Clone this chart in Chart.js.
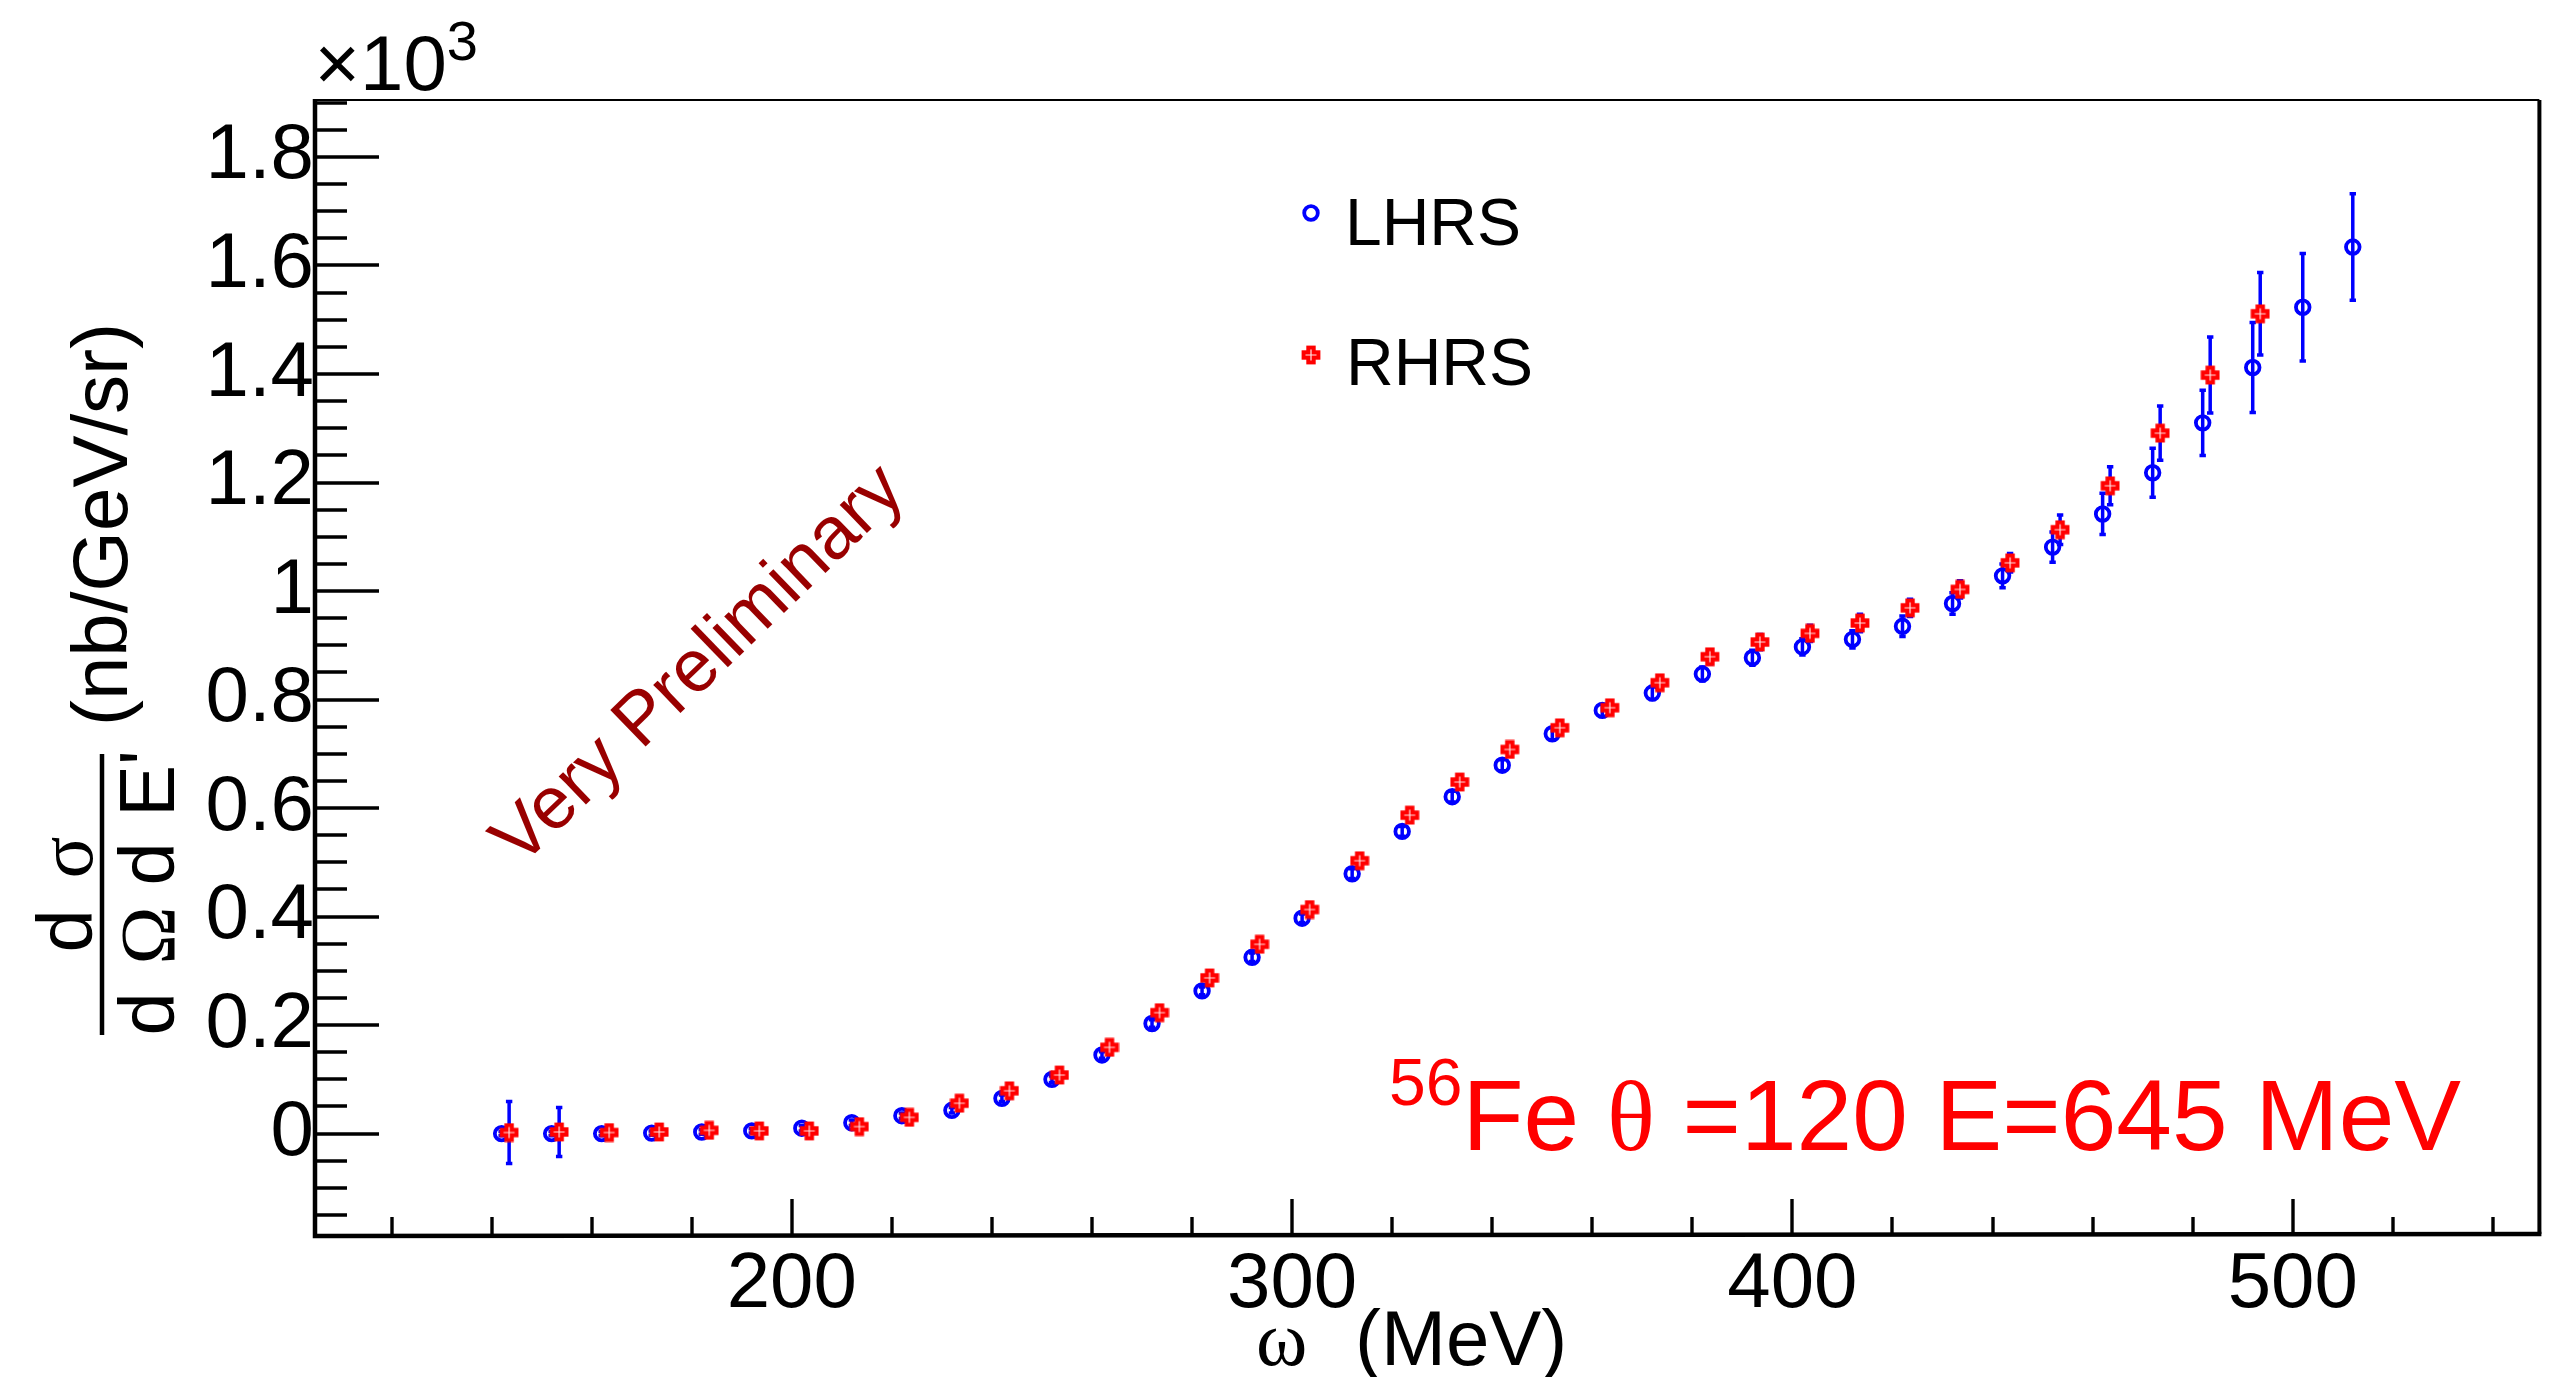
<!DOCTYPE html>
<html>
<head>
<meta charset="utf-8">
<script src="https://cdn.jsdelivr.net/npm/chart.js@4.4.0/dist/chart.umd.min.js"></script>
<style>
html,body{margin:0;padding:0;background:#fff;overflow:hidden}
canvas{display:block}
</style>
</head>
<body>
<canvas id="c" width="2550" height="1377"></canvas>
<script>
// ---------- data (cross section in units of 10^3 nb/GeV/sr) ----------
const lhrsOmega = [142,152,162,172,182,192,202,212,222,232,242,252,262,272,282,292,302,312,322,332,342,352,362,372,382,392,402,412,422,432,442,452,462,472,482,492,502,512];
const lhrsXsec  = [0.000,0.000,0.000,0.001,0.003,0.005,0.010,0.020,0.033,0.043,0.065,0.100,0.145,0.203,0.263,0.325,0.397,0.479,0.557,0.621,0.679,0.737,0.780,0.812,0.847,0.877,0.897,0.911,0.935,0.977,1.028,1.081,1.142,1.218,1.310,1.412,1.523,1.634];
const lhrsErr   = [0.004,0.004,0.004,0.004,0.004,0.004,0.005,0.005,0.005,0.005,0.006,0.006,0.006,0.007,0.007,0.008,0.008,0.009,0.009,0.010,0.010,0.011,0.011,0.012,0.013,0.014,0.015,0.016,0.019,0.020,0.022,0.028,0.038,0.045,0.060,0.083,0.099,0.098];

const rhrsOmega = [143.5,153.5,163.5,173.5,183.5,193.5,203.5,213.5,223.5,233.5,243.5,253.5,263.5,273.5,283.5,293.5,303.5,313.5,323.5,333.5,343.5,353.5,363.5,373.5,383.5,393.5,403.5,413.5,423.5,433.5,443.5,453.5,463.5,473.5,483.5,493.5];
const rhrsXsec  = [0.002,0.003,0.002,0.003,0.006,0.005,0.005,0.013,0.030,0.056,0.079,0.108,0.159,0.223,0.287,0.349,0.413,0.503,0.587,0.648,0.708,0.748,0.785,0.831,0.879,0.906,0.922,0.941,0.969,1.003,1.052,1.113,1.194,1.291,1.398,1.511];
const rhrsErr   = [0.057,0.045,0.006,0.005,0.005,0.005,0.005,0.005,0.005,0.006,0.006,0.006,0.007,0.007,0.008,0.008,0.009,0.009,0.010,0.010,0.011,0.011,0.012,0.012,0.013,0.014,0.015,0.016,0.016,0.016,0.017,0.027,0.035,0.050,0.070,0.076];

const xTickValues = [200,300,400,500];
const yTickValues = [0,0.2,0.4,0.6,0.8,1.0,1.2,1.4,1.6,1.8];
const xRange = [104.7, 549.3];
const yRange = [-0.185, 1.905];
const seriesNames = ['LHRS','RHRS'];

// ---------- styling ----------
const SANS = 'Liberation Sans';
const SERIF = 'Liberation Serif';
const BLUE = '#0000ff';
const RED = '#ff0000';

function makeCross(){
  const s = 20, c = document.createElement('canvas');
  c.width = s; c.height = s;
  const g = c.getContext('2d');
  const m = s/2, a = 4.7, L = 9.4;
  g.fillStyle = RED;
  g.fillRect(m-a, m-L, 2*a, 2*L);
  g.fillRect(m-L, m-a, 2*L, 2*a);
  g.strokeStyle = 'rgba(255,255,255,0.9)';
  g.lineWidth = 1.2;
  g.beginPath();
  g.moveTo(m-5.5, m); g.lineTo(m+5.5, m);
  g.moveTo(m, m-5.5); g.lineTo(m, m+5.5);
  g.stroke();
  return c;
}
const crossImg = makeCross();

const errSets = [
  {x: lhrsOmega, y: lhrsXsec, e: lhrsErr},
  {x: rhrsOmega, y: rhrsXsec, e: rhrsErr}
];

const rootPlugin = {
  id: 'rootDecor',
  beforeDraw(chart){
    const ctx = chart.ctx;
    ctx.save(); ctx.fillStyle = '#fff'; ctx.fillRect(0,0,chart.width,chart.height); ctx.restore();
  },
  beforeDatasetDraw(chart, args){
    const set = errSets[args.index];
    if (!set) return;
    const {ctx, scales:{x, y}} = chart;
    ctx.save();
    ctx.strokeStyle = BLUE;
    ctx.lineWidth = 3.5;
    ctx.lineCap = 'butt';
    set.x.forEach((xv, i) => {
      const px = x.getPixelForValue(xv);
      const y1 = y.getPixelForValue(set.y[i] + set.e[i]);
      const y2 = y.getPixelForValue(set.y[i] - set.e[i]);
      ctx.beginPath();
      ctx.moveTo(px, y1); ctx.lineTo(px, y2);
      ctx.moveTo(px-3.2, y1); ctx.lineTo(px+3.2, y1);
      ctx.moveTo(px-3.2, y2); ctx.lineTo(px+3.2, y2);
      ctx.stroke();
    });
    ctx.restore();
  },
  afterDraw(chart){
    const {ctx, chartArea:ca, scales:{x, y}} = chart;
    ctx.save();
    ctx.strokeStyle = '#000';
    // ticks
    ctx.lineWidth = 3.4;
    ctx.beginPath();
    for (let v = -0.15; v <= yRange[1] + 1e-9; v += 0.05) {
      const py = Math.round(y.getPixelForValue(v));
      const major = Math.abs(v/0.2 - Math.round(v/0.2)) < 1e-6;
      ctx.moveTo(ca.left, py); ctx.lineTo(ca.left + (major ? 64 : 32), py);
    }
    for (let v = 120; v <= xRange[1]; v += 20) {
      const px = Math.round(x.getPixelForValue(v));
      const major = v % 100 === 0;
      ctx.moveTo(px, ca.bottom); ctx.lineTo(px, ca.bottom - (major ? 35 : 17));
    }
    ctx.stroke();
    // frame
    ctx.lineWidth = 4.5;
    ctx.beginPath();
    ctx.moveTo(ca.left, ca.top - 1); ctx.lineTo(ca.left, ca.bottom + 2);
    ctx.lineTo(ca.right + 2, ca.bottom);
    ctx.stroke();
    ctx.lineWidth = 4;
    ctx.beginPath(); ctx.moveTo(ca.right, ca.top); ctx.lineTo(ca.right, ca.bottom); ctx.stroke();
    ctx.lineWidth = 2;
    ctx.beginPath(); ctx.moveTo(ca.left, ca.top); ctx.lineTo(ca.right, ca.top); ctx.stroke();

    ctx.fillStyle = '#000';
    ctx.textBaseline = 'alphabetic';
    // x10^3
    ctx.textAlign = 'left';
    ctx.font = `78px "${SANS}"`;
    ctx.fillText('\u00d710', 314.5, 90);
    const w10 = ctx.measureText('\u00d710').width;
    ctx.font = `56px "${SANS}"`;
    ctx.fillText('3', 314.5 + w10, 60);

    // x title
    ctx.font = `78px "${SERIF}"`;
    ctx.fillText('\u03c9', 1256, 1365);
    ctx.font = `78px "${SANS}"`;
    ctx.fillText('(MeV)', 1355, 1365);

    // y title
    ctx.save();
    ctx.translate(127, 524.5); ctx.rotate(-Math.PI/2);
    ctx.textAlign = 'center';
    ctx.font = `78px "${SANS}"`;
    ctx.fillText('(nb/GeV/sr)', 0, 0);
    ctx.restore();
    // fraction bar
    ctx.lineWidth = 4.5;
    ctx.beginPath(); ctx.moveTo(102, 754); ctx.lineTo(102, 1035); ctx.stroke();
    // numerator
    ctx.save();
    ctx.translate(92, 952.6); ctx.rotate(-Math.PI/2);
    ctx.textAlign = 'left';
    ctx.font = `78px "${SANS}"`; ctx.fillText('d', 0, 0);
    ctx.font = `78px "${SERIF}"`; ctx.fillText('\u03c3', 74, 0);
    ctx.restore();
    // denominator
    ctx.save();
    ctx.translate(174, 1035.6); ctx.rotate(-Math.PI/2);
    ctx.textAlign = 'left';
    ctx.font = `78px "${SANS}"`; ctx.fillText('d', 0, 0);
    ctx.font = `78px "${SERIF}"`; ctx.fillText('\u03a9', 71, 0);
    ctx.font = `78px "${SANS}"`; ctx.fillText('d', 150, 0);
    ctx.fillText("E'", 218.6, 0);
    ctx.restore();

    // legend
    const lgX = 1311;
    ctx.strokeStyle = BLUE; ctx.lineWidth = 3.8;
    ctx.beginPath(); ctx.arc(lgX, 213, 6.8, 0, Math.PI*2); ctx.stroke();
    ctx.drawImage(crossImg, lgX - 10, 355 - 10);
    ctx.fillStyle = '#000';
    ctx.font = `66px "${SANS}"`;
    ctx.fillText(seriesNames[0], 1345, 245);
    ctx.fillText(seriesNames[1], 1346, 385);

    // Very Preliminary
    ctx.save();
    ctx.translate(520, 868); ctx.rotate(-44*Math.PI/180);
    ctx.fillStyle = '#990000';
    ctx.font = `74px "${SANS}"`;
    ctx.fillText('Very Preliminary', 0, 0);
    ctx.restore();

    // Fe annotation
    ctx.fillStyle = RED;
    let cx = 1389;
    ctx.font = `66px "${SANS}"`; ctx.fillText('56', cx, 1105); cx += ctx.measureText('56').width;
    ctx.font = `100px "${SANS}"`; ctx.fillText('Fe ', cx, 1150); cx += ctx.measureText('Fe ').width;
    ctx.font = `100px "${SERIF}"`; ctx.fillText('\u03b8', cx, 1150); cx += ctx.measureText('\u03b8').width;
    ctx.font = `100px "${SANS}"`; ctx.fillText(' =120 E=645 MeV', cx, 1150);
    ctx.restore();
  }
};

const fmtY = v => String(Math.round(v*10)/10);

new Chart(document.getElementById('c'), {
  type: 'scatter',
  data: {
    datasets: [
      {
        label: seriesNames[0],
        data: lhrsOmega.map((w, i) => ({x: w, y: lhrsXsec[i]})),
        pointStyle: 'circle',
        pointRadius: 6.8,
        pointBorderWidth: 3.8,
        pointBorderColor: BLUE,
        pointBackgroundColor: 'rgba(0,0,0,0)',
        showLine: false,
        order: 2
      },
      {
        label: seriesNames[1],
        data: rhrsOmega.map((w, i) => ({x: w, y: rhrsXsec[i]})),
        pointStyle: crossImg,
        pointRadius: 9,
        pointBorderWidth: 0,
        showLine: false,
        order: 1
      }
    ]
  },
  options: {
    responsive: false,
    devicePixelRatio: 1,
    animation: false,
    layout: {padding: {top: 100, right: 8, left: 0, bottom: 0}},
    plugins: {legend: {display: false}, tooltip: {enabled: false}},
    scales: {
      x: {
        type: 'linear', position: 'bottom',
        min: xRange[0], max: xRange[1],
        afterBuildTicks: s => { s.ticks = xTickValues.map(v => ({value: v})); },
        afterFit: s => { s.height = 143; },
        ticks: {font: {family: SANS, size: 78, lineHeight: 1}, color: '#000', padding: 12, maxRotation: 0, autoSkip: false, callback: v => String(v)},
        grid: {display: false, drawTicks: false},
        border: {display: false}
      },
      y: {
        type: 'linear', position: 'left',
        min: yRange[0], max: yRange[1],
        afterBuildTicks: s => { s.ticks = yTickValues.map(v => ({value: v})); },
        afterFit: s => { s.width = 315; },
        ticks: {font: {family: SANS, size: 78, lineHeight: 1}, color: '#000', padding: 1, autoSkip: false, callback: v => fmtY(v)},
        grid: {display: false, drawTicks: false},
        border: {display: false}
      }
    }
  },
  plugins: [rootPlugin]
});
</script>
</body>
</html>
